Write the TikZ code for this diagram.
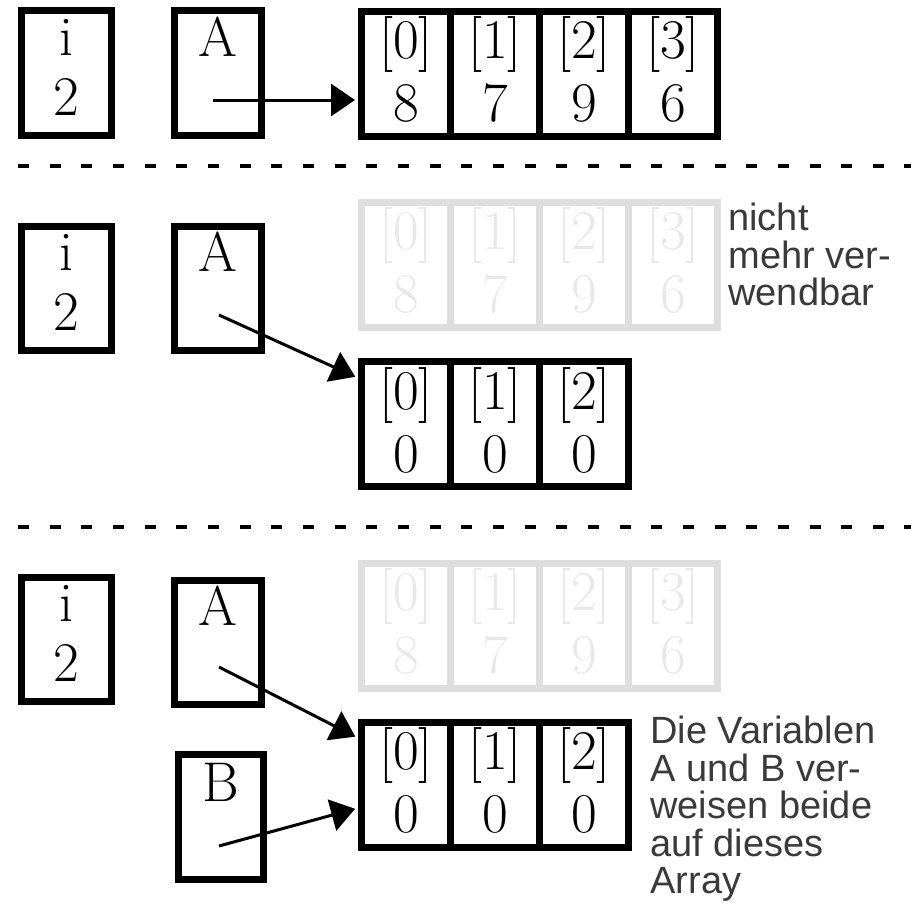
\documentclass[tikz,border=0pt]{standalone}
\usepackage{fontspec}
\newfontfamily\labelfont{Liberation Sans}
\usetikzlibrary{arrows.meta,calc}
\definecolor{ghostline}{HTML}{DEDEDE}
\definecolor{ghosttext}{HTML}{E8E8E8}
\definecolor{notegray}{HTML}{3A3A3A}
\begin{document}
\begin{tikzpicture}[x=0.5pt, y=-0.5pt,
  cellbox/.style={draw, line width=3.5pt, minimum width=44.5pt, minimum height=62.5pt, inner sep=0pt},
  ghostbox/.style={cellbox, draw=ghostline},
  varbox/.style={draw, line width=3.5pt, minimum width=#1, minimum height=62.25pt, inner sep=0pt},
  boxtext/.style={font=\fontsize{28}{32}\selectfont, inner sep=0pt, anchor=base},
  ghosttxt/.style={boxtext, text=ghosttext},
  ptr/.style={line width=1.5pt, shorten >=1.5pt, -{Triangle[length=12pt,width=16pt]}},
  sepline/.style={line width=2pt, dash pattern=on 5.5pt off 10.33pt},
  note/.style={font=\labelfont\fontsize{19}{18.75}\selectfont, text=notegray, align=left, anchor=north west, inner sep=0pt}
]
\useasboundingbox (0,0) rectangle (911,906);

% ---------- section 1 ----------
\node[varbox=45pt] (i1) at (66.5,73) {};
\node[boxtext] (i1n) at ($(i1.center)+(0,-18)$) {i};
\node[boxtext] (i1v) at ($(i1.center)+(0,42)$) {2};
\node[varbox=43.5pt] (A1) at (218,73) {};
\node[boxtext] (A1n) at ($(A1.center)+(0,-17)$) {A};
\foreach \k/\v in {0/8,1/7,2/9,3/6}{
  \node[cellbox] (a1c\k) at ({406+89*\k},73.5) {};
  \node[boxtext] (a1i\k) at ($(a1c\k.center)+(0,-15)$) {[\k]};
  \node[boxtext] (a1v\k) at ($(a1c\k.center)+(0,48)$) {\v};
}
\coordinate (p1) at (213,100);
\draw[ptr] (p1) -- (p1 -| a1c0.west);

\coordinate (s1a) at (18,165.5);
\coordinate (s1b) at (911,165.5);
\draw[sepline] (s1a) -- (s1b);

% ---------- section 2 ----------
\node[varbox=45pt] (i2) at (66.5,288.5) {};
\node[boxtext] (i2n) at ($(i2.center)+(0,-18)$) {i};
\node[boxtext] (i2v) at ($(i2.center)+(0,42)$) {2};
\node[varbox=43.5pt] (A2) at (218,288.5) {};
\node[boxtext] (A2n) at ($(A2.center)+(0,-17)$) {A};
\foreach \k/\v in {0/8,1/7,2/9,3/6}{
  \node[ghostbox] (g2c\k) at ({406+89*\k},264.5) {};
  \node[ghosttxt] (g2i\k) at ($(g2c\k.center)+(0,-15)$) {[\k]};
  \node[ghosttxt] (g2v\k) at ($(g2c\k.center)+(0,48)$) {\v};
}
\foreach \k in {0,1,2}{
  \node[cellbox] (a2c\k) at ({406+89*\k},424) {};
  \node[boxtext] (a2i\k) at ($(a2c\k.center)+(0,-15)$) {[\k]};
  \node[boxtext] (a2v\k) at ($(a2c\k.center)+(0,48)$) {0};
}
\coordinate (p2) at (219,315);
\draw[ptr] (p2) -- ([yshift=23pt]a2c0.west);
\node[note] (n1) at (728,203) {nicht\\mehr ver-\\wendbar};

\coordinate (s2a) at (18,527);
\coordinate (s2b) at (911,527);
\draw[sepline] (s2a) -- (s2b);

% ---------- section 3 ----------
\node[varbox=45pt] (i3) at (66.5,639.5) {};
\node[boxtext] (i3n) at ($(i3.center)+(0,-18)$) {i};
\node[boxtext] (i3v) at ($(i3.center)+(0,42)$) {2};
\node[varbox=43.5pt] (A3) at (218,642.5) {};
\node[boxtext] (A3n) at ($(A3.center)+(0,-17)$) {A};
\node[varbox=42.5pt] (B3) at (221,817) {};
\node[boxtext] (B3n) at ($(B3.center)+(0,-16)$) {B};
\foreach \k/\v in {0/8,1/7,2/9,3/6}{
  \node[ghostbox] (g3c\k) at ({406+89*\k},625.5) {};
  \node[ghosttxt] (g3i\k) at ($(g3c\k.center)+(0,-15)$) {[\k]};
  \node[ghosttxt] (g3v\k) at ($(g3c\k.center)+(0,48)$) {\v};
}
\foreach \k in {0,1,2}{
  \node[cellbox] (a3c\k) at ({406+89*\k},784.5) {};
  \node[boxtext] (a3i\k) at ($(a3c\k.center)+(0,-15)$) {[\k]};
  \node[boxtext] (a3v\k) at ($(a3c\k.center)+(0,48)$) {0};
}
\coordinate (p3) at (219,667);
\coordinate (p4) at (219,846);
\draw[ptr] (p3) -- ([yshift=23.25pt]a3c0.west);
\draw[ptr] (p4) -- ([yshift=-11.75pt]a3c0.west);
\node[note] (n2) at (650,716) {Die Variablen\\A und B ver-\\weisen beide\\auf dieses\\Array};
\end{tikzpicture}
\end{document}
